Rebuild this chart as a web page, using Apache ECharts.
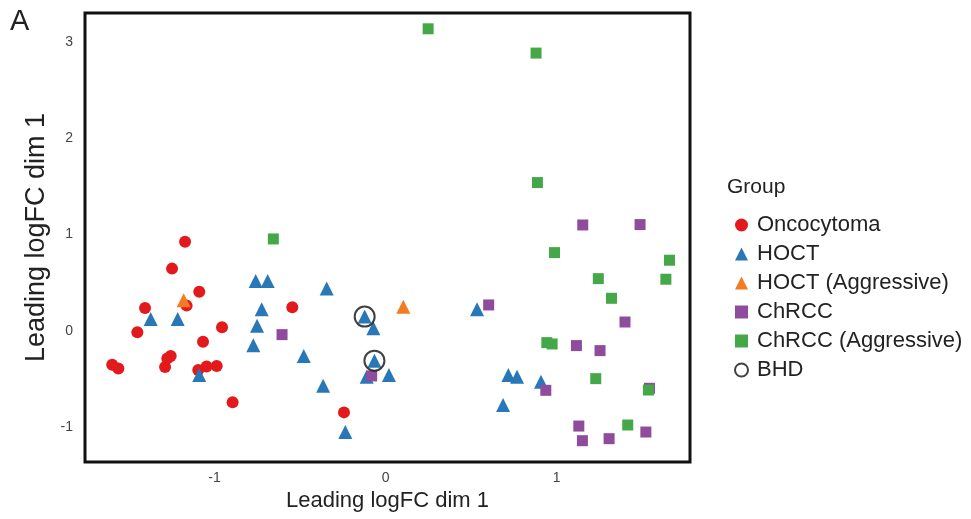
<!DOCTYPE html>
<html>
<head>
<meta charset="utf-8">
<script src="https://cdn.jsdelivr.net/npm/echarts@6/dist/echarts.min.js"></script>
<style>
  html, body { margin: 0; padding: 0; background: #fff; }
  #chart { width: 971px; height: 519px; }
</style>
</head>
<body>
<div id="chart"></div>
<script>
// values: [dim1 (x), dim2 (y)]
const oncocytoma = [
  [-1.172, 0.927], [-1.248, 0.647], [-1.089, 0.408], [-1.163, 0.263], [-1.406, 0.239],
  [-0.545, 0.246], [-1.451, -0.014], [-0.956, 0.038], [-1.067, -0.111], [-1.256, -0.26],
  [-1.276, -0.287], [-1.289, -0.374], [-1.598, -0.35], [-1.562, -0.39], [-1.095, -0.405],
  [-1.046, -0.37], [-0.987, -0.363], [-0.894, -0.741], [-0.243, -0.845]
]
const hoct = [
  [-1.373, 0.125], [-1.215, 0.125], [-1.089, -0.457], [-0.759, 0.519], [-0.689, 0.519],
  [-0.724, 0.225], [-0.751, 0.055], [-0.773, -0.149], [-0.478, -0.26], [-0.344, 0.44],
  [-0.122, 0.149], [-0.071, 0.028], [-0.065, -0.308], [-0.11, -0.475], [0.02, -0.457],
  [-0.365, -0.568], [-0.235, -1.049], [0.535, 0.225], [0.718, -0.457], [0.769, -0.475],
  [0.909, -0.526], [0.687, -0.768]
]
const hoctAggressive = [[-1.18, 0.319], [0.104, 0.252]]
const chrcc = [
  [-0.605, -0.038], [-0.081, -0.467], [1.153, 1.10], [1.488, 1.104], [0.603, 0.27],
  [1.40, 0.093], [1.116, -0.152], [1.254, -0.204], [0.937, -0.616], [1.543, -0.595],
  [1.13, -0.987], [1.522, -1.049], [1.151, -1.139], [1.307, -1.118]
]
const chrccAggressive = [
  [0.249, 3.136], [0.88, 2.884], [0.888, 1.54], [-0.656, 0.955], [0.988, 0.813],
  [1.66, 0.734], [1.244, 0.543], [1.639, 0.537], [1.321, 0.339], [0.943, -0.121],
  [0.974, -0.135], [1.229, -0.495], [1.537, -0.613], [1.416, -0.976]
]
const bhd = [[-0.122, 0.149], [-0.065, -0.308]]

const xTicks = [-1, 0, 1]
const yTicks = [-1, 0, 1, 2, 3]

const font = 'Liberation Sans, Arial, Helvetica, sans-serif'
const chart = echarts.init(document.getElementById('chart'))

function group(name, data, symbol, size, color) {
  return {
    name,
    type: 'scatter',
    data,
    symbol,
    symbolSize: size,
    itemStyle: { color, opacity: 1 }
  }
}

const option = {
  animation: false,
  backgroundColor: '#fff',
  title: [
    { text: 'A', left: 5, top: 2, textStyle: { fontFamily: font, fontSize: 29, fontWeight: 'normal', color: '#222' } },
    { text: 'Group', left: 722, top: 172, textStyle: { fontFamily: font, fontSize: 21, fontWeight: 'normal', color: '#222' } }
  ],
  grid: {
    left: 85,
    right: 281,
    top: 13,
    bottom: 57,
    show: true,
    borderColor: '#111',
    borderWidth: 3
  },
  legend: {
    orient: 'vertical',
    left: 729,
    top: 209,
    itemGap: 7,
    itemWidth: 13,
    itemHeight: 13,
    textStyle: { fontFamily: font, fontSize: 22, color: '#222', padding: [0, 0, 0, 4] },
    data: ['Oncocytoma', 'HOCT', 'HOCT (Aggressive)', 'ChRCC', 'ChRCC (Aggressive)', 'BHD']
  },
  xAxis: {
    type: 'value',
    min: -1.757,
    max: 1.78,
    name: 'Leading logFC dim 1',
    nameLocation: 'middle',
    nameGap: 25,
    nameTextStyle: { fontFamily: font, fontSize: 22, color: '#222' },
    axisLine: { show: false },
    axisTick: { show: false },
    splitLine: { show: false },
    axisLabel: { customValues: xTicks, fontFamily: font, fontSize: 14, color: '#444', margin: 9 }
  },
  yAxis: {
    type: 'value',
    min: -1.36,
    max: 3.30,
    name: 'Leading logFC dim 1',
    nameLocation: 'middle',
    nameGap: 32,
    nameTextStyle: { fontFamily: font, fontSize: 27, color: '#222' },
    axisLine: { show: false },
    axisTick: { show: false },
    splitLine: { show: false },
    axisLabel: { customValues: yTicks, fontFamily: font, fontSize: 14, color: '#444', margin: 12 }
  },
  series: [
    group('Oncocytoma', oncocytoma, 'circle', 12, '#e31a1c'),
    group('HOCT', hoct, 'triangle', 14, '#2878b8'),
    group('HOCT (Aggressive)', hoctAggressive, 'triangle', 14, '#f37b21'),
    group('ChRCC', chrcc, 'rect', 11, '#8f4b9c'),
    group('ChRCC (Aggressive)', chrccAggressive, 'rect', 11, '#44a848'),
    {
      name: 'BHD',
      type: 'scatter',
      data: bhd,
      symbol: 'circle',
      symbolSize: 20,
      z: 5,
      itemStyle: { color: 'rgba(0,0,0,0)', borderColor: '#111', borderWidth: 2 }
    }
  ]
}
chart.setOption(option)
</script>
</body>
</html>
